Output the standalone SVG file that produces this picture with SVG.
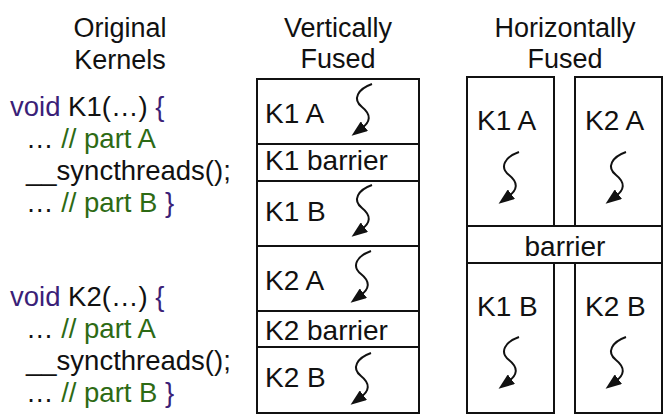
<svg xmlns="http://www.w3.org/2000/svg" width="664" height="417" viewBox="0 0 664 417">
<defs>
<style>
text{font-family:"Liberation Sans",Arial,Helvetica,sans-serif;font-size:27px;fill:#111}
.t{text-anchor:middle}
.lb{font-size:28px}
.code{font-size:27.5px}
.kw{fill:#3b1f78}
.cm{fill:#2d6a14}
.box{fill:#fff;stroke:#111;stroke-width:2}
.sep{stroke:#111;stroke-width:2}
.sq{fill:none;stroke:#111;stroke-width:2;marker-end:url(#ah)}
</style>
<marker id="ah" viewBox="0 0 16 12" refX="3" refY="6" markerWidth="16" markerHeight="12" markerUnits="userSpaceOnUse" orient="auto">
<path d="M0,0 L16,6 L0,12 z" fill="#111"/>
</marker>
<path id="sq" d="M0,0 C-14,5 -20,15 -10,23 C0,31 -2,38 -10,44"/>
</defs>

<g id="titles">
<text class="t" x="120" y="37">Original</text>
<text class="t" x="120" y="69">Kernels</text>
<text class="t" x="338" y="37">Vertically</text>
<text class="t" x="338" y="68">Fused</text>
<text class="t" x="565" y="37">Horizontally</text>
<text class="t" x="565" y="68">Fused</text>
</g>

<g id="code-k1" class="code">
<text class="code" x="10" y="116"><tspan class="kw">void</tspan> K1(…) <tspan class="kw">{</tspan></text>
<text class="code" x="26" y="148">… <tspan class="cm">// part A</tspan></text>
<text class="code" x="26" y="180">__syncthreads();</text>
<text class="code" x="26" y="212">… <tspan class="cm">// part B </tspan><tspan class="kw">}</tspan></text>
</g>
<g id="code-k2" class="code">
<text class="code" x="10" y="306"><tspan class="kw">void</tspan> K2(…) <tspan class="kw">{</tspan></text>
<text class="code" x="26" y="338">… <tspan class="cm">// part A</tspan></text>
<text class="code" x="26" y="370">__syncthreads();</text>
<text class="code" x="26" y="402">… <tspan class="cm">// part B </tspan><tspan class="kw">}</tspan></text>
</g>

<g id="vertical">
<rect class="box" x="257" y="79" width="162" height="334"/>
<g id="v-k1a"><line class="sep" x1="257" y1="144" x2="419" y2="144"/><text class="lb" x="265" y="123">K1 A</text></g>
<g id="v-k1bar"><line class="sep" x1="257" y1="181" x2="419" y2="181"/><text class="lb" x="265" y="170">K1 barrier</text></g>
<g id="v-k1b"><line class="sep" x1="257" y1="246" x2="419" y2="246"/><text class="lb" x="265" y="221">K1 B</text></g>
<g id="v-k2a"><line class="sep" x1="257" y1="311" x2="419" y2="311"/><text class="lb" x="265" y="290">K2 A</text></g>
<g id="v-k2bar"><line class="sep" x1="257" y1="347" x2="419" y2="347"/><text class="lb" x="265" y="340">K2 barrier</text></g>
<g id="v-k2b"><text class="lb" x="265" y="387">K2 B</text></g>
</g>

<g id="horizontal">
<g id="h-k1a"><rect class="box" x="467" y="77" width="87" height="149"/><text class="lb" x="477" y="130">K1 A</text></g>
<g id="h-k2a"><rect class="box" x="575" y="77" width="87" height="149"/><text class="lb" x="585" y="130">K2 A</text></g>
<g id="h-barrier"><rect class="box" x="467" y="226" width="195" height="37"/><text class="lb t" x="565" y="256">barrier</text></g>
<g id="h-k1b"><rect class="box" x="467" y="263" width="87" height="150"/><text class="lb" x="477" y="316">K1 B</text></g>
<g id="h-k2b"><rect class="box" x="575" y="263" width="87" height="150"/><text class="lb" x="585" y="316">K2 B</text></g>
</g>

<g id="connectors">
<use class="sq" href="#sq" x="372" y="84"/>
<use class="sq" href="#sq" x="372" y="185"/>
<use class="sq" href="#sq" x="371" y="251"/>
<use class="sq" href="#sq" x="371" y="353"/>
<use class="sq" href="#sq" x="519" y="152"/>
<use class="sq" href="#sq" x="626" y="152"/>
<use class="sq" href="#sq" x="519" y="337"/>
<use class="sq" href="#sq" x="626" y="337"/>
</g>
</svg>
